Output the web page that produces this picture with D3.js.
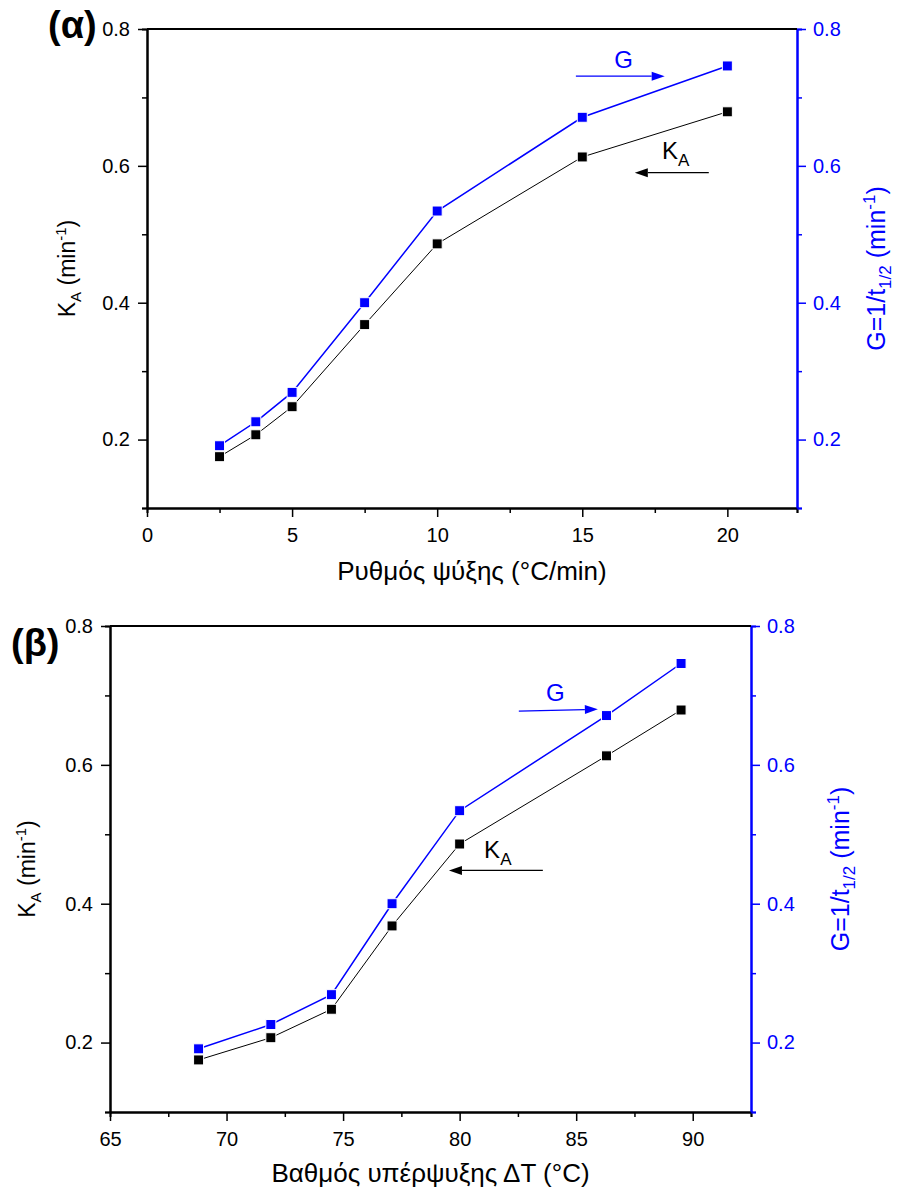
<!DOCTYPE html>
<html>
<head>
<meta charset="utf-8">
<script src="https://cdn.jsdelivr.net/npm/d3@7"></script>
<style>
  body { margin: 0; background: #fff; }
  text { font-family: "Liberation Sans", Arial, sans-serif; }
</style>
</head>
<body>
<div id="graph"></div>
<script>
// values
var coolingRate = [2.5, 3.75, 5, 7.5, 10, 15, 20];
var supercooling = [68.8, 71.9, 74.5, 77.1, 80, 86.3, 89.5];
var kA = [0.175, 0.207, 0.248, 0.368, 0.486, 0.613, 0.679];
var gRate = [0.191, 0.226, 0.269, 0.400, 0.534, 0.671, 0.746];

var yTicks = [0.2, 0.4, 0.6, 0.8];
var yMinor = [0.1, 0.3, 0.5, 0.7];
var xTicksA = [0, 5, 10, 15, 20];
var xMinorA = [2.5, 7.5, 12.5, 17.5, 22.4];
var xTicksB = [65, 70, 75, 80, 85, 90];
var xMinorB = [67.5, 72.5, 77.5, 82.5, 87.5, 92.5];

var blue = "#0000ff";

var svg = d3.select("#graph").append("svg")
    .attr("width", 898)
    .attr("height", 1193);

function drawPanel(p) {
  var width = p.width, height = p.height;
  var x = d3.scaleLinear().domain(p.xDomain).range([0, width]);
  var y = d3.scaleLinear().domain([0.1, 0.8]).range([height, 0]);

  var g = svg.append("g")
      .attr("transform", "translate(" + p.left + "," + p.top + ")");

  // minor ticks
  g.append("g")
      .attr("transform", "translate(0," + height + ")")
      .call(d3.axisBottom(x).tickValues(p.xMinor).tickSize(5).tickFormat(""))
      .call(styleAxis, "#000");
  g.append("g")
      .call(d3.axisLeft(y).tickValues(yMinor).tickSize(5).tickFormat(""))
      .call(styleAxis, "#000");
  g.append("g")
      .attr("transform", "translate(" + width + ",0)")
      .call(d3.axisRight(y).tickValues(yMinor).tickSize(5).tickFormat(""))
      .call(styleAxis, blue);

  // major axes
  g.append("g")
      .attr("transform", "translate(0," + height + ")")
      .call(d3.axisBottom(x).tickValues(p.xTicks).tickSize(9).tickSizeOuter(0).tickPadding(11).tickFormat(d3.format("d")))
      .call(styleAxis, "#000");
  g.append("g")
      .call(d3.axisLeft(y).tickValues(yTicks).tickSize(9).tickSizeOuter(0).tickPadding(8).tickFormat(d3.format(".1f")))
      .call(styleAxis, "#000");
  g.append("g")
      .attr("transform", "translate(" + width + ",0)")
      .call(d3.axisRight(y).tickValues(yTicks).tickSize(9).tickSizeOuter(0).tickPadding(7).tickFormat(d3.format(".1f")))
      .call(styleAxis, blue);

  // top frame line
  g.append("line")
      .attr("x1", 0).attr("x2", width)
      .attr("y1", 0).attr("y2", 0)
      .style("stroke", "#000")
      .style("stroke-width", 2);

  var kData = p.xs.map(function(d, i) { return [d, kA[i]]; });
  var gData = p.xs.map(function(d, i) { return [d, gRate[i]]; });
  var line = d3.line()
      .x(function(d) { return x(d[0]); })
      .y(function(d) { return y(d[1]); });

  g.append("path").datum(kData)
      .attr("d", line)
      .style("fill", "none").style("stroke", "#000").style("stroke-width", 1);
  g.append("path").datum(gData)
      .attr("d", line)
      .style("fill", "none").style("stroke", blue).style("stroke-width", 1.5);

  [[kData, "#000"], [gData, blue]].forEach(function(s) {
    g.selectAll(null)
        .data(s[0])
      .enter().append("rect")
        .attr("x", function(d) { return x(d[0]) - 5; })
        .attr("y", function(d) { return y(d[1]) - 5; })
        .attr("width", 10)
        .attr("height", 10)
        .style("fill", s[1])
        .style("stroke", "#fff")
        .style("stroke-width", 1);
  });

  // annotations, placed in data units
  var a = p.notes;
  g.append("text")
      .attr("x", x(a.gText[0])).attr("y", y(a.gText[1]))
      .style("font-size", "24px").style("fill", blue)
      .text("G");
  arrow(g, x(a.gArrow[0]), y(a.gArrow[1]), x(a.gArrow[2]), y(a.gArrow[3]), blue);

  var kt = g.append("text")
      .attr("x", x(a.kText[0])).attr("y", y(a.kText[1]))
      .style("font-size", "24px").style("fill", "#000");
  kt.append("tspan").text("K");
  kt.append("tspan").attr("dy", 7).style("font-size", "17px").text("A");
  arrow(g, x(a.kArrow[0]), y(a.kArrow[1]), x(a.kArrow[2]), y(a.kArrow[3]), "#000");

  // axis titles
  g.append("text")
      .attr("x", width / 2)
      .attr("y", height + p.xTitleDy)
      .style("font-size", "26px")
      .style("text-anchor", "middle")
      .text(p.xTitle);

  var lt = g.append("text")
      .attr("transform", "translate(" + p.yTitleLeft + "," + (height / 2) + ") rotate(-90)")
      .style("font-size", "23px")
      .style("text-anchor", "middle");
  lt.append("tspan").text("K");
  lt.append("tspan").attr("dy", 6).style("font-size", "15px").text("A");
  lt.append("tspan").attr("dy", -6).text(" (min");
  lt.append("tspan").attr("dy", -9).style("font-size", "15px").text("-1");
  lt.append("tspan").attr("dy", 9).text(")");

  var rt = g.append("text")
      .attr("transform", "translate(" + (width + p.yTitleRight) + "," + (height / 2) + ") rotate(-90)")
      .style("font-size", "25px")
      .style("fill", blue)
      .style("text-anchor", "middle");
  rt.append("tspan").text("G=1/t");
  rt.append("tspan").attr("dy", 6).style("font-size", "17px").text("1/2");
  rt.append("tspan").attr("dy", -6).text(" (min");
  rt.append("tspan").attr("dy", -10).style("font-size", "17px").text("-1");
  rt.append("tspan").attr("dy", 10).text(")");

  // panel label
  svg.append("text")
      .attr("x", p.label[0]).attr("y", p.label[1])
      .style("font-size", "38px")
      .style("font-weight", "bold")
      .text(p.labelText);
}

function styleAxis(sel, color) {
  sel.select(".domain").style("stroke", color).style("stroke-width", 2);
  sel.selectAll(".tick line").style("stroke", color).style("stroke-width", 1.5);
  sel.selectAll(".tick text")
      .style("font-size", "20px")
      .style("fill", color)
      .style("font-family", "'Liberation Sans', Arial, sans-serif");
}

function arrow(g, x1, y1, x2, y2, color) {
  var ang = Math.atan2(y2 - y1, x2 - x1);
  var len = 13, half = 4.5;
  var bx = x2 - len * Math.cos(ang), by = y2 - len * Math.sin(ang);
  g.append("line")
      .attr("x1", x1).attr("y1", y1)
      .attr("x2", bx).attr("y2", by)
      .style("stroke", color).style("stroke-width", 1.2);
  g.append("path")
      .attr("d", "M" + x2 + "," + y2 +
                 "L" + (bx + half * Math.sin(ang)) + "," + (by - half * Math.cos(ang)) +
                 "L" + (bx - half * Math.sin(ang)) + "," + (by + half * Math.cos(ang)) + "Z")
      .style("fill", color);
}

drawPanel({
  left: 147, top: 29, width: 650, height: 479,
  xDomain: [0, 22.4], xs: coolingRate,
  xTicks: xTicksA, xMinor: xMinorA,
  xTitle: "Ρυθμός ψύξης (°C/min)", xTitleDy: 72,
  yTitleLeft: -72, yTitleRight: 88,
  label: [48, 38], labelText: "(α)",
  notes: {
    gText: [16.1, 0.743], gArrow: [14.78, 0.731, 17.84, 0.731],
    kText: [17.75, 0.61], kArrow: [19.36, 0.59, 16.81, 0.59]
  }
});

drawPanel({
  left: 110, top: 626, width: 641, height: 486,
  xDomain: [65, 92.5], xs: supercooling,
  xTicks: xTicksB, xMinor: xMinorB,
  xTitle: "Βαθμός υπέρψυξης ΔT (°C)", xTitleDy: 70,
  yTitleLeft: -75, yTitleRight: 98,
  label: [11, 656], labelText: "(β)",
  notes: {
    gText: [83.7, 0.692], gArrow: [82.54, 0.6775, 85.93, 0.680],
    kText: [81.05, 0.466], kArrow: [83.57, 0.448, 79.54, 0.448]
  }
});
</script>
</body>
</html>
